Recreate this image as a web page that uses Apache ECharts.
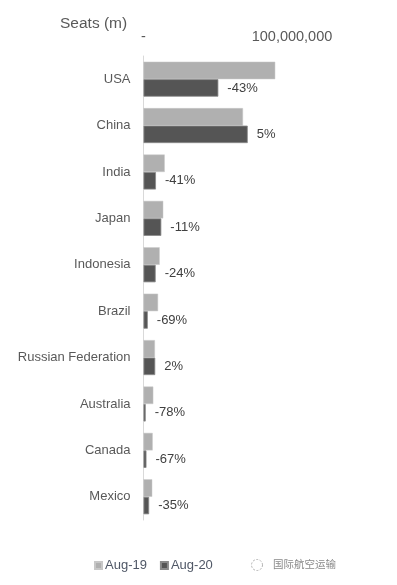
<!DOCTYPE html>
<html><head><meta charset="utf-8">
<script src="https://cdn.jsdelivr.net/npm/echarts@6/dist/echarts.min.js"></script>
<style>html,body{margin:0;padding:0;background:#fff}#c{width:397px;height:585px}</style>
</head><body><div id="c"></div>
<script>
const categories = ['USA','China','India','Japan','Indonesia','Brazil','Russian Federation','Australia','Canada','Mexico'];
const aug19 = [88.7e6, 67.0e6, 14.3e6, 13.3e6, 10.9e6, 9.8e6, 7.7e6, 6.6e6, 6.2e6, 5.9e6];
const aug20 = [50.4e6, 70.2e6, 8.4e6, 12.0e6, 8.2e6, 2.9e6, 7.9e6, 1.5e6, 2.0e6, 3.8e6];
const changeLabels = ['-43%','5%','-41%','-11%','-24%','-69%','2%','-78%','-67%','-35%'];
const xTicks = {0: '-', 100000000: '100,000,000'};

const chart = echarts.init(document.getElementById('c'));
chart.setOption({
  animation: false,
  textStyle: {fontFamily: 'Liberation Sans, Arial, sans-serif'},
  title: {text: 'Seats (m)', left: 55, top: 11,
    textStyle: {fontSize: 15.5, fontWeight: 'normal', color: '#595959'}},
  grid: {left: 143.5, top: 56, width: 148.5, height: 464, containLabel: false},
  xAxis: {type: 'value', position: 'top', min: 0, max: 100000000, interval: 100000000,
    axisLine: {show: false}, axisTick: {show: false}, splitLine: {show: false},
    axisLabel: {color: '#595959', fontSize: 14.5, margin: 12, showMinLabel: true, showMaxLabel: true,
      formatter: v => xTicks[v] !== undefined ? xTicks[v] : ''}},
  yAxis: {type: 'category', data: categories, inverse: true,
    axisLine: {show: true, lineStyle: {color: '#d9d9d9', width: 1}},
    axisTick: {show: false},
    axisLabel: {color: '#595959', fontSize: 13, margin: 13}},
  legend: {bottom: 8, left: 89, itemWidth: 7, itemHeight: 7, itemGap: 13, icon: 'rect',
    textStyle: {color: '#4f5766', fontSize: 13, padding: [0,0,0,-2]},
    data: ['Aug-19','Aug-20']},
  series: [
    {name: 'Aug-19', type: 'bar', data: aug19, barWidth: 17.5, barGap: '0%',
      itemStyle: {color: '#b0b0b0', borderColor: '#c8c8c8', borderWidth: 0.5}},
    {name: 'Aug-20', type: 'bar', data: aug20, barWidth: 17.5,
      itemStyle: {color: '#555555', borderColor: '#8a8a8a', borderWidth: 0.8},
      label: {show: true, position: 'right', distance: 9, color: '#404040', fontSize: 13,
        formatter: p => changeLabels[p.dataIndex]}}
  ],
  graphic: [
    {type: 'circle', shape: {cx: 257, cy: 565, r: 5.5},
      style: {fill: 'none', stroke: '#b0b0b0', lineWidth: 1, lineDash: [2, 1.5]}},
    {type: 'text', left: 273, top: 559,
    style: {text: '国际航空运输', fill: '#8a8a8a', fontSize: 10.5,
      fontFamily: 'Noto Sans CJK SC'}}]
});
</script></body></html>
